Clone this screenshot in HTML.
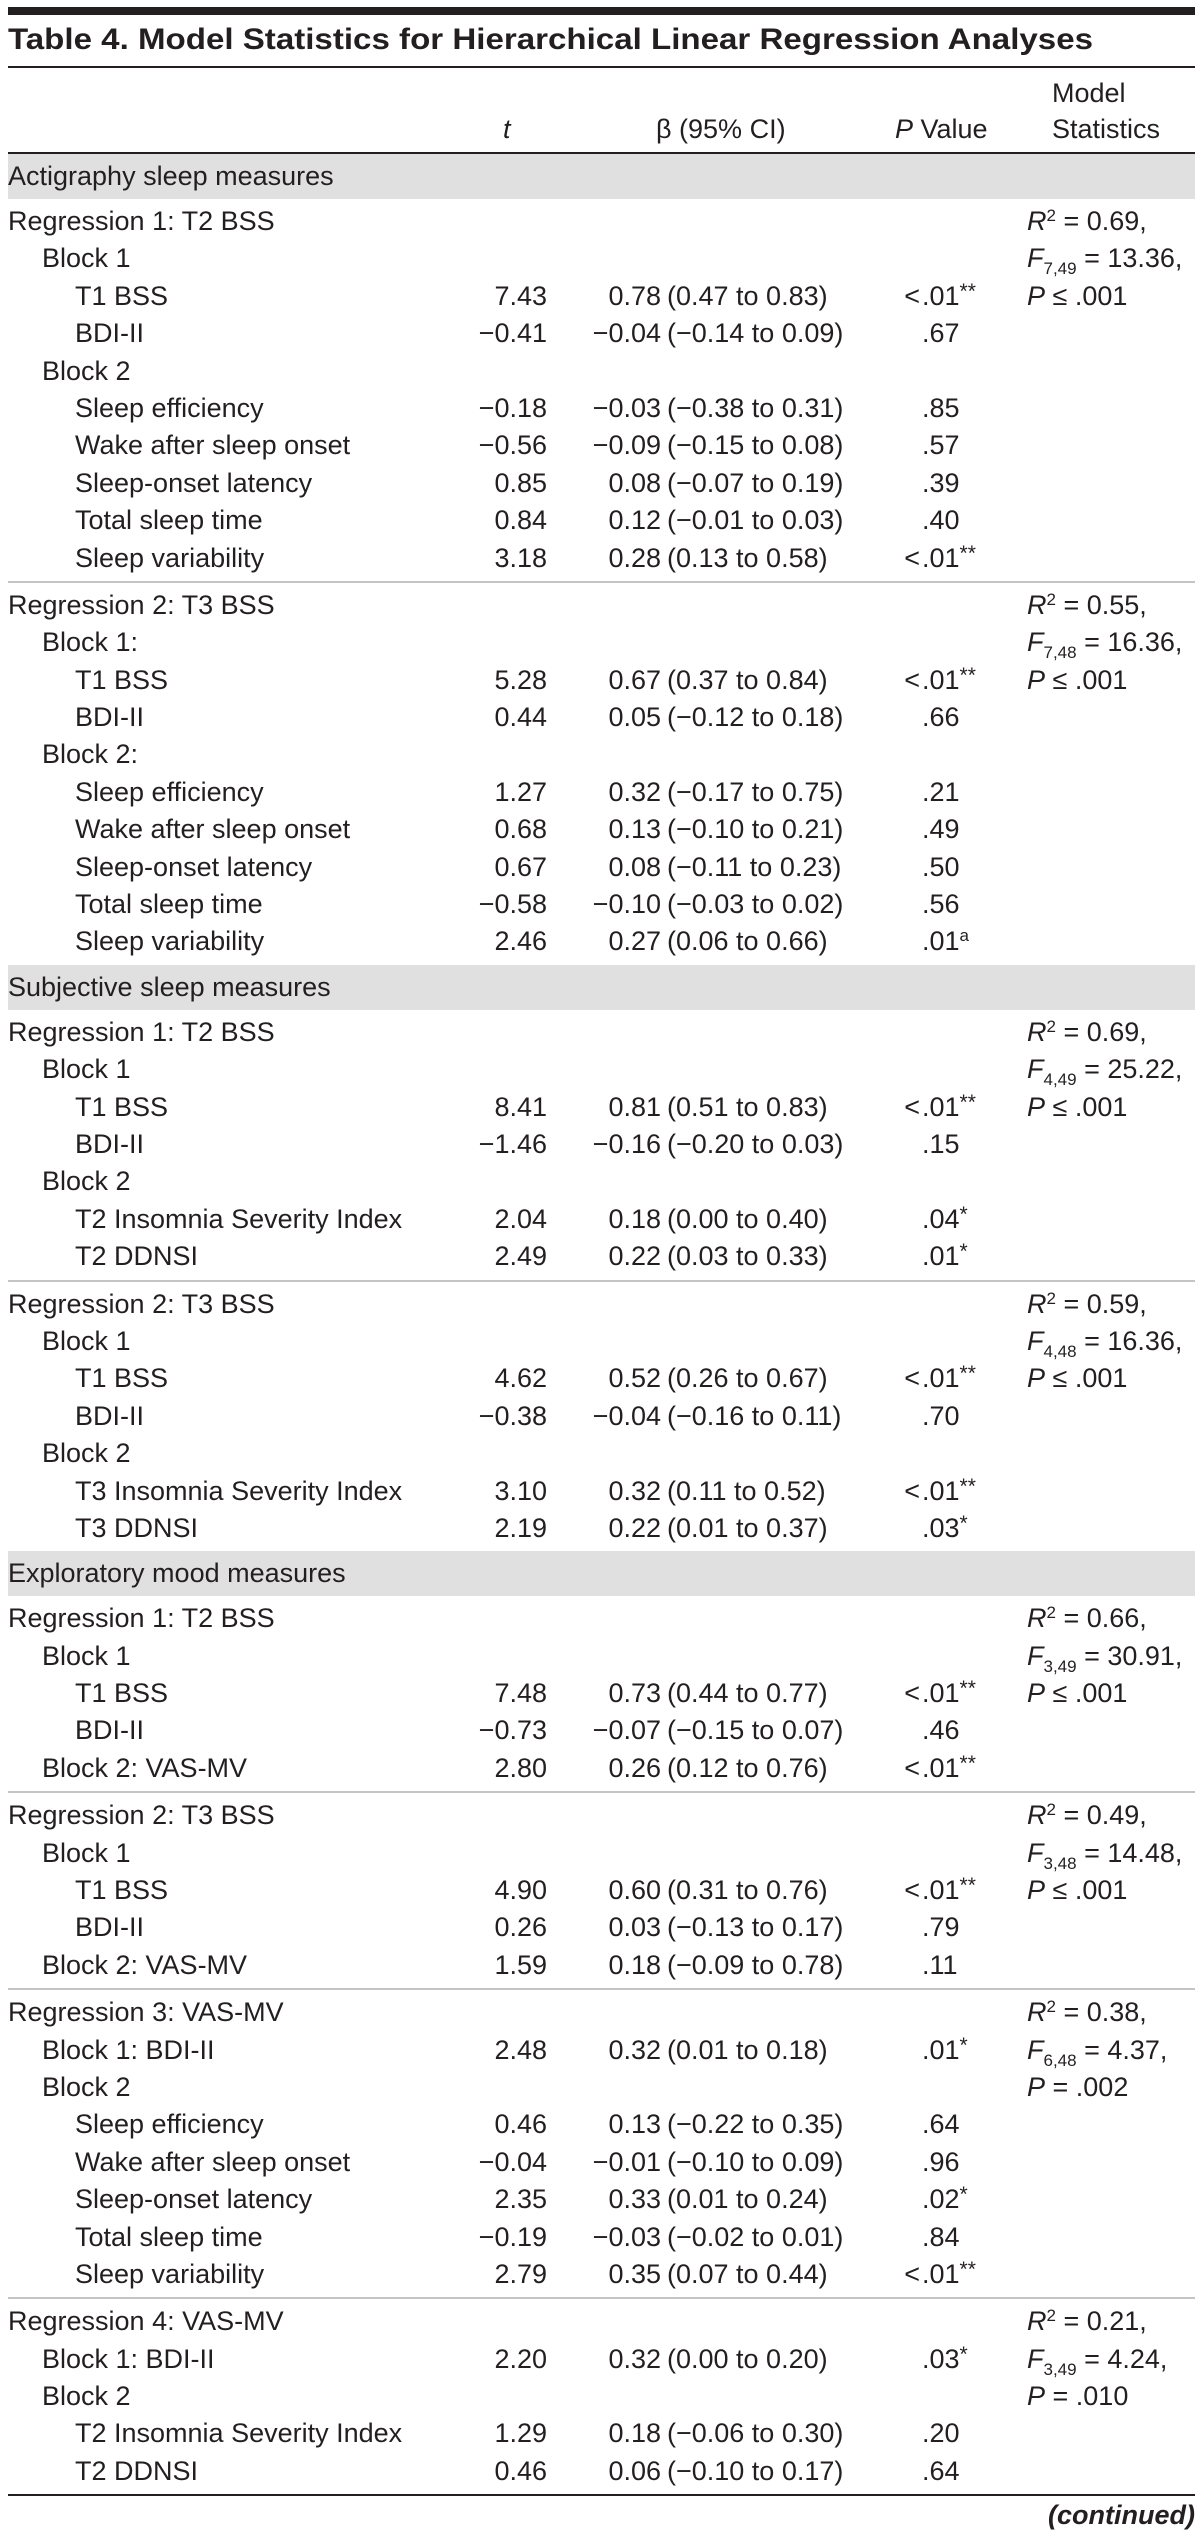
<!DOCTYPE html>
<html><head><meta charset="utf-8">
<style>
html,body{margin:0;padding:0;background:#fff}
body{width:1203px;height:2545px;position:relative;overflow:hidden;font-family:"Liberation Sans",sans-serif;font-size:27px;color:#231f20}
.abs{position:absolute;white-space:nowrap}
#topbar{left:8px;top:7px;width:1187px;height:8px;background:#231f20}
#title{left:8px;top:20px;font-weight:bold;font-size:30px;transform-origin:0 0;line-height:40px}
#tline{left:8px;top:66px;width:1187px;height:2px;background:#231f20}
#hline{left:8px;top:152px;width:1187px;height:2px;background:#231f20}
#table{position:absolute;left:0;top:154px;width:1203px}
.band{height:45px;background:#e0e0e0;margin:0 8px;position:relative}
.band span{position:absolute;left:0;top:0;line-height:45px}
.grp{padding:4px 0}
.div{height:2px;background:#c4c4c4;margin:0 8px}
.r{position:relative;height:37.4px;line-height:37.4px}
.r > span{position:absolute;white-space:nowrap;top:0}
.l{left:8px}.i1{left:42px}.i2{left:75px}
.t{right:656px}
.b1{right:542px}
.b2{left:667px}
.p1{right:283px}
.p2{left:922px}
.m{left:1027px}
sup{font-size:17px;line-height:0;vertical-align:9px}
sub{font-size:17px;line-height:0;vertical-align:-7px}
.s{position:static;font-size:21px;vertical-align:7px;line-height:0}
#bline{left:8px;top:2494px;width:1187px;height:2px;background:#231f20}
#cont{right:8px;top:2500px;font-weight:bold;font-style:italic;line-height:30px}
</style></head><body>
<div class="abs" id="topbar"></div>
<div class="abs" id="title">Table 4. Model Statistics for Hierarchical Linear Regression Analyses</div>
<div class="abs" id="tline"></div>
<div class="abs" style="left:1052px;top:78px;line-height:30px">Model</div>
<div class="abs" style="left:1052px;top:114px;line-height:30px">Statistics</div>
<div class="abs" style="left:503px;top:114px;line-height:30px;font-style:italic">t</div>
<div class="abs" style="left:656px;top:114px;line-height:30px">β (95% CI)</div>
<div class="abs" style="left:895px;top:114px;line-height:30px"><i>P</i> Value</div>
<div class="abs" id="hline"></div>

<div id="table">
<div class="band"><span>Actigraphy sleep measures</span></div>
<div class="grp">
<div class="r"><span class="l">Regression 1: T2 BSS</span><span class="m"><i>R</i><sup>2</sup> = 0.69,</span></div>
<div class="r"><span class="i1">Block 1</span><span class="m"><i>F</i><sub>7,49</sub> = 13.36,</span></div>
<div class="r"><span class="i2">T1 BSS</span><span class="t">7.43</span><span class="b1">0.78</span><span class="b2">(0.47 to 0.83)</span><span class="p1">&lt;</span><span class="p2">.01<span class="s">**</span></span><span class="m"><i>P</i> ≤ .001</span></div>
<div class="r"><span class="i2">BDI-II</span><span class="t">−0.41</span><span class="b1">−0.04</span><span class="b2">(−0.14 to 0.09)</span><span class="p2">.67</span></div>
<div class="r"><span class="i1">Block 2</span></div>
<div class="r"><span class="i2">Sleep efficiency</span><span class="t">−0.18</span><span class="b1">−0.03</span><span class="b2">(−0.38 to 0.31)</span><span class="p2">.85</span></div>
<div class="r"><span class="i2">Wake after sleep onset</span><span class="t">−0.56</span><span class="b1">−0.09</span><span class="b2">(−0.15 to 0.08)</span><span class="p2">.57</span></div>
<div class="r"><span class="i2">Sleep-onset latency</span><span class="t">0.85</span><span class="b1">0.08</span><span class="b2">(−0.07 to 0.19)</span><span class="p2">.39</span></div>
<div class="r"><span class="i2">Total sleep time</span><span class="t">0.84</span><span class="b1">0.12</span><span class="b2">(−0.01 to 0.03)</span><span class="p2">.40</span></div>
<div class="r"><span class="i2">Sleep variability</span><span class="t">3.18</span><span class="b1">0.28</span><span class="b2">(0.13 to 0.58)</span><span class="p1">&lt;</span><span class="p2">.01<span class="s">**</span></span></div>
</div>
<div class="div"></div>
<div class="grp">
<div class="r"><span class="l">Regression 2: T3 BSS</span><span class="m"><i>R</i><sup>2</sup> = 0.55,</span></div>
<div class="r"><span class="i1">Block 1:</span><span class="m"><i>F</i><sub>7,48</sub> = 16.36,</span></div>
<div class="r"><span class="i2">T1 BSS</span><span class="t">5.28</span><span class="b1">0.67</span><span class="b2">(0.37 to 0.84)</span><span class="p1">&lt;</span><span class="p2">.01<span class="s">**</span></span><span class="m"><i>P</i> ≤ .001</span></div>
<div class="r"><span class="i2">BDI-II</span><span class="t">0.44</span><span class="b1">0.05</span><span class="b2">(−0.12 to 0.18)</span><span class="p2">.66</span></div>
<div class="r"><span class="i1">Block 2:</span></div>
<div class="r"><span class="i2">Sleep efficiency</span><span class="t">1.27</span><span class="b1">0.32</span><span class="b2">(−0.17 to 0.75)</span><span class="p2">.21</span></div>
<div class="r"><span class="i2">Wake after sleep onset</span><span class="t">0.68</span><span class="b1">0.13</span><span class="b2">(−0.10 to 0.21)</span><span class="p2">.49</span></div>
<div class="r"><span class="i2">Sleep-onset latency</span><span class="t">0.67</span><span class="b1">0.08</span><span class="b2">(−0.11 to 0.23)</span><span class="p2">.50</span></div>
<div class="r"><span class="i2">Total sleep time</span><span class="t">−0.58</span><span class="b1">−0.10</span><span class="b2">(−0.03 to 0.02)</span><span class="p2">.56</span></div>
<div class="r"><span class="i2">Sleep variability</span><span class="t">2.46</span><span class="b1">0.27</span><span class="b2">(0.06 to 0.66)</span><span class="p2">.01<sup>a</sup></span></div>
</div>
<div class="band"><span>Subjective sleep measures</span></div>
<div class="grp">
<div class="r"><span class="l">Regression 1: T2 BSS</span><span class="m"><i>R</i><sup>2</sup> = 0.69,</span></div>
<div class="r"><span class="i1">Block 1</span><span class="m"><i>F</i><sub>4,49</sub> = 25.22,</span></div>
<div class="r"><span class="i2">T1 BSS</span><span class="t">8.41</span><span class="b1">0.81</span><span class="b2">(0.51 to 0.83)</span><span class="p1">&lt;</span><span class="p2">.01<span class="s">**</span></span><span class="m"><i>P</i> ≤ .001</span></div>
<div class="r"><span class="i2">BDI-II</span><span class="t">−1.46</span><span class="b1">−0.16</span><span class="b2">(−0.20 to 0.03)</span><span class="p2">.15</span></div>
<div class="r"><span class="i1">Block 2</span></div>
<div class="r"><span class="i2">T2 Insomnia Severity Index</span><span class="t">2.04</span><span class="b1">0.18</span><span class="b2">(0.00 to 0.40)</span><span class="p2">.04<span class="s">*</span></span></div>
<div class="r"><span class="i2">T2 DDNSI</span><span class="t">2.49</span><span class="b1">0.22</span><span class="b2">(0.03 to 0.33)</span><span class="p2">.01<span class="s">*</span></span></div>
</div>
<div class="div"></div>
<div class="grp">
<div class="r"><span class="l">Regression 2: T3 BSS</span><span class="m"><i>R</i><sup>2</sup> = 0.59,</span></div>
<div class="r"><span class="i1">Block 1</span><span class="m"><i>F</i><sub>4,48</sub> = 16.36,</span></div>
<div class="r"><span class="i2">T1 BSS</span><span class="t">4.62</span><span class="b1">0.52</span><span class="b2">(0.26 to 0.67)</span><span class="p1">&lt;</span><span class="p2">.01<span class="s">**</span></span><span class="m"><i>P</i> ≤ .001</span></div>
<div class="r"><span class="i2">BDI-II</span><span class="t">−0.38</span><span class="b1">−0.04</span><span class="b2">(−0.16 to 0.11)</span><span class="p2">.70</span></div>
<div class="r"><span class="i1">Block 2</span></div>
<div class="r"><span class="i2">T3 Insomnia Severity Index</span><span class="t">3.10</span><span class="b1">0.32</span><span class="b2">(0.11 to 0.52)</span><span class="p1">&lt;</span><span class="p2">.01<span class="s">**</span></span></div>
<div class="r"><span class="i2">T3 DDNSI</span><span class="t">2.19</span><span class="b1">0.22</span><span class="b2">(0.01 to 0.37)</span><span class="p2">.03<span class="s">*</span></span></div>
</div>
<div class="band"><span>Exploratory mood measures</span></div>
<div class="grp">
<div class="r"><span class="l">Regression 1: T2 BSS</span><span class="m"><i>R</i><sup>2</sup> = 0.66,</span></div>
<div class="r"><span class="i1">Block 1</span><span class="m"><i>F</i><sub>3,49</sub> = 30.91,</span></div>
<div class="r"><span class="i2">T1 BSS</span><span class="t">7.48</span><span class="b1">0.73</span><span class="b2">(0.44 to 0.77)</span><span class="p1">&lt;</span><span class="p2">.01<span class="s">**</span></span><span class="m"><i>P</i> ≤ .001</span></div>
<div class="r"><span class="i2">BDI-II</span><span class="t">−0.73</span><span class="b1">−0.07</span><span class="b2">(−0.15 to 0.07)</span><span class="p2">.46</span></div>
<div class="r"><span class="i1">Block 2: VAS-MV</span><span class="t">2.80</span><span class="b1">0.26</span><span class="b2">(0.12 to 0.76)</span><span class="p1">&lt;</span><span class="p2">.01<span class="s">**</span></span></div>
</div>
<div class="div"></div>
<div class="grp">
<div class="r"><span class="l">Regression 2: T3 BSS</span><span class="m"><i>R</i><sup>2</sup> = 0.49,</span></div>
<div class="r"><span class="i1">Block 1</span><span class="m"><i>F</i><sub>3,48</sub> = 14.48,</span></div>
<div class="r"><span class="i2">T1 BSS</span><span class="t">4.90</span><span class="b1">0.60</span><span class="b2">(0.31 to 0.76)</span><span class="p1">&lt;</span><span class="p2">.01<span class="s">**</span></span><span class="m"><i>P</i> ≤ .001</span></div>
<div class="r"><span class="i2">BDI-II</span><span class="t">0.26</span><span class="b1">0.03</span><span class="b2">(−0.13 to 0.17)</span><span class="p2">.79</span></div>
<div class="r"><span class="i1">Block 2: VAS-MV</span><span class="t">1.59</span><span class="b1">0.18</span><span class="b2">(−0.09 to 0.78)</span><span class="p2">.11</span></div>
</div>
<div class="div"></div>
<div class="grp">
<div class="r"><span class="l">Regression 3: VAS-MV</span><span class="m"><i>R</i><sup>2</sup> = 0.38,</span></div>
<div class="r"><span class="i1">Block 1: BDI-II</span><span class="t">2.48</span><span class="b1">0.32</span><span class="b2">(0.01 to 0.18)</span><span class="p2">.01<span class="s">*</span></span><span class="m"><i>F</i><sub>6,48</sub> = 4.37,</span></div>
<div class="r"><span class="i1">Block 2</span><span class="m"><i>P</i> = .002</span></div>
<div class="r"><span class="i2">Sleep efficiency</span><span class="t">0.46</span><span class="b1">0.13</span><span class="b2">(−0.22 to 0.35)</span><span class="p2">.64</span></div>
<div class="r"><span class="i2">Wake after sleep onset</span><span class="t">−0.04</span><span class="b1">−0.01</span><span class="b2">(−0.10 to 0.09)</span><span class="p2">.96</span></div>
<div class="r"><span class="i2">Sleep-onset latency</span><span class="t">2.35</span><span class="b1">0.33</span><span class="b2">(0.01 to 0.24)</span><span class="p2">.02<span class="s">*</span></span></div>
<div class="r"><span class="i2">Total sleep time</span><span class="t">−0.19</span><span class="b1">−0.03</span><span class="b2">(−0.02 to 0.01)</span><span class="p2">.84</span></div>
<div class="r"><span class="i2">Sleep variability</span><span class="t">2.79</span><span class="b1">0.35</span><span class="b2">(0.07 to 0.44)</span><span class="p1">&lt;</span><span class="p2">.01<span class="s">**</span></span></div>
</div>
<div class="div"></div>
<div class="grp">
<div class="r"><span class="l">Regression 4: VAS-MV</span><span class="m"><i>R</i><sup>2</sup> = 0.21,</span></div>
<div class="r"><span class="i1">Block 1: BDI-II</span><span class="t">2.20</span><span class="b1">0.32</span><span class="b2">(0.00 to 0.20)</span><span class="p2">.03<span class="s">*</span></span><span class="m"><i>F</i><sub>3,49</sub> = 4.24,</span></div>
<div class="r"><span class="i1">Block 2</span><span class="m"><i>P</i> = .010</span></div>
<div class="r"><span class="i2">T2 Insomnia Severity Index</span><span class="t">1.29</span><span class="b1">0.18</span><span class="b2">(−0.06 to 0.30)</span><span class="p2">.20</span></div>
<div class="r"><span class="i2">T2 DDNSI</span><span class="t">0.46</span><span class="b1">0.06</span><span class="b2">(−0.10 to 0.17)</span><span class="p2">.64</span></div>
</div>
</div>
<div class="abs" id="bline"></div>
<div class="abs" id="cont">(continued)</div>
<script>
var t=document.getElementById('title');
var w=t.getBoundingClientRect().width;
if(w>0){t.style.transform='scaleX('+(1085/w)+')';}
</script>
</body></html>
